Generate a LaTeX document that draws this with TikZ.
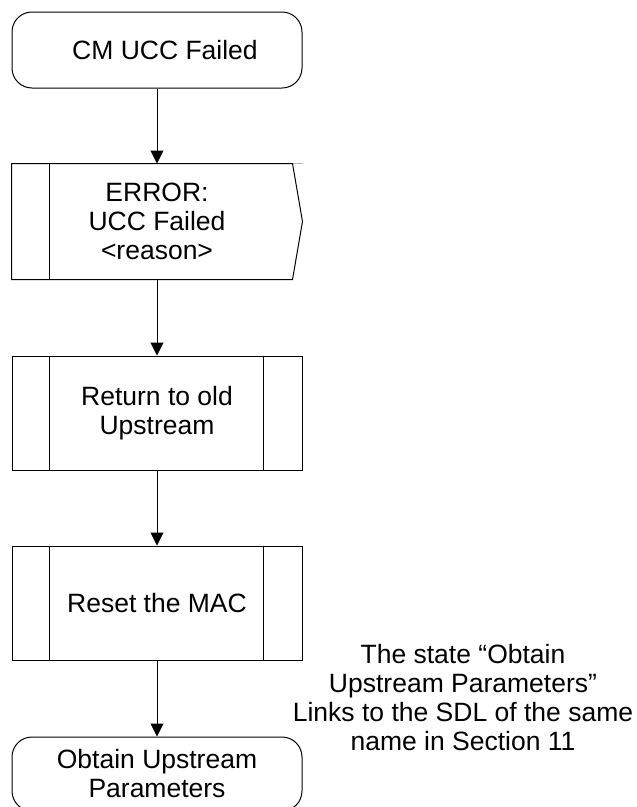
\documentclass[tikz,border=0pt]{standalone}
\usepackage{fontspec}
\setmainfont{Liberation Sans}
\usetikzlibrary{arrows.meta}
\begin{document}
\begin{tikzpicture}[x=1pt,y=-1pt, line width=1pt,
  every node/.style={font=\fontsize{26.5}{29}\selectfont, align=center, inner sep=0pt},
  statebox/.style={draw, rounded corners=20pt, minimum width=290pt, minimum height=76pt},
  procbox/.style={draw, minimum width=290pt, minimum height=114pt},
  flow/.style={-{Triangle[length=13pt,width=13pt]}}]
\useasboundingbox (0,0) rectangle (637,807);
\node[statebox] (start) at (157,50) {\hspace*{16pt}CM UCC Failed};
\node[minimum width=290pt, minimum height=115pt] (err) at (157,221.5) {ERROR:\\UCC Failed\\<reason>};
\draw (err.north west) -- ([xshift=-10pt]err.north east) -- (err.east) -- ([xshift=-10pt]err.south east) -- (err.south west) -- cycle;
\draw ([xshift=38pt]err.north west) -- ([xshift=38pt]err.south west);
\draw[gray!60] ([xshift=-10pt]err.north east) -- (err.north east);
\node[procbox] (ret) at (157,413) {Return to old\\Upstream};
\draw ([xshift=38pt]ret.north west) -- ([xshift=38pt]ret.south west);
\draw ([xshift=-39pt]ret.north east) -- ([xshift=-39pt]ret.south east);
\node[procbox] (reset) at (157,603) {Reset the MAC};
\draw ([xshift=38pt]reset.north west) -- ([xshift=38pt]reset.south west);
\draw ([xshift=-39pt]reset.north east) -- ([xshift=-39pt]reset.south east);
\node[statebox, minimum height=74pt] (obtain) at (157,774) {Obtain Upstream\\Parameters};
\node (note) at (463,698) {The state “Obtain\\Upstream Parameters”\\Links to the SDL of the same\\name in Section 11};
\draw[flow] (start) -- (err);
\draw[flow] (err) -- (ret);
\draw[flow] (ret) -- (reset);
\draw[flow] (reset) -- (obtain);
\end{tikzpicture}
\end{document}
